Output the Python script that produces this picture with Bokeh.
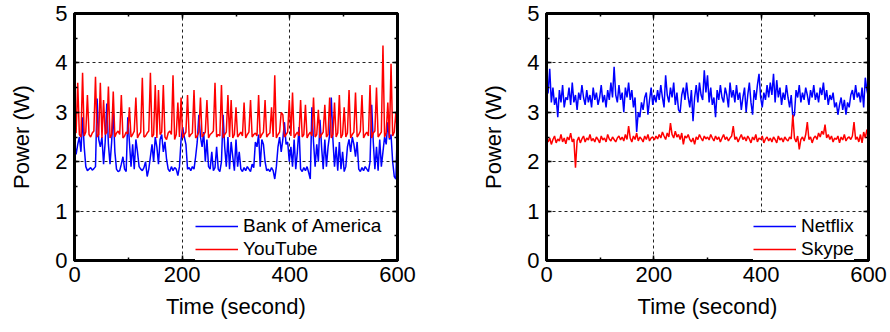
import numpy as np
from bokeh.plotting import figure
from bokeh.layouts import row
from bokeh.models import (Range1d, LinearAxis, Legend, LegendItem, SingleIntervalTicker,
                          CustomJSTickFormatter)
from bokeh.embed import file_html
from bokeh.resources import INLINE

# ---- data (power in W, sampled every 3 s from 0 to 600 s) ----
bank_of_america = [
    2.40, 2.15, 2.35, 2.50, 2.20, 2.90, 2.30,
    1.90, 1.82, 1.85, 1.88, 1.83, 1.86, 1.90,
    3.28,
    2.45, 2.30, 2.50, 1.95, 2.40,
    3.18,
    2.35, 1.95, 2.40,
    3.00,
    2.20, 1.85, 1.80, 1.82, 1.95, 2.10, 1.85, 1.80,
    2.90,
    2.40, 1.90, 2.35, 1.85, 2.45, 2.20, 1.90,
    1.85, 1.82, 1.88, 2.00, 1.70, 1.85,
    2.10, 2.35, 2.00, 2.50, 2.30, 1.95, 2.45, 2.55, 2.20, 2.40, 2.05,
    1.85, 1.80, 1.90, 1.82, 1.88, 1.85, 1.72, 1.90,
    2.45, 2.70, 2.50, 2.35,
    1.85, 1.88, 1.82, 1.90, 1.85, 2.10,
    2.40, 2.95,
    2.50, 2.30, 2.60, 2.00, 2.45, 1.90,
    1.85, 2.20, 1.82, 1.88, 2.30, 1.85, 1.80, 2.00,
    2.95,
    2.30, 1.90, 2.50, 1.85, 2.40, 2.10, 1.82, 2.45, 1.90, 2.20,
    1.85, 1.80, 1.88, 1.82, 1.90, 1.85, 1.80, 1.95, 1.88,
    2.40, 2.30, 2.55, 1.90, 2.45, 2.35, 2.00,
    1.82, 1.85, 1.80, 1.88, 1.82, 1.65, 1.90,
    2.30, 2.50, 2.20, 2.45, 2.80, 2.35, 2.40, 2.00,
    2.30, 1.90, 2.45, 1.85, 2.20, 2.70,
    1.85, 1.80, 1.88, 1.82, 1.90, 1.78, 1.65,
    3.10,
    2.40, 1.90, 2.35, 2.00, 2.85, 2.30, 1.85, 2.45, 1.90, 2.30,
    2.55, 3.30,
    2.45, 1.90, 2.30, 1.82, 2.40, 1.85, 2.20, 1.80, 1.90,
    2.30, 2.45, 2.20, 2.50, 2.35, 2.10, 2.40,
    1.85, 1.80, 1.88, 1.82, 1.90, 1.85, 1.80, 2.00,
    3.15,
    2.40, 1.85, 2.30, 1.82, 2.45, 1.90, 2.20,
    2.50, 2.35, 2.80, 2.45, 2.55, 2.00,
    1.70, 1.65, 2.80,
]

youtube = [
    2.62, 2.58, 3.60, 2.55, 2.50, 3.80, 2.52, 2.60, 3.35, 2.55,
    2.50, 2.58, 2.62, 3.72, 2.50, 2.55, 3.60, 2.48, 3.25, 2.55,
    2.60, 3.52, 2.48, 2.55, 3.42, 2.50, 2.58, 2.62, 2.55, 3.35,
    2.48, 2.52, 2.60, 2.56, 3.10, 2.50, 2.55, 2.62, 3.30, 2.48,
    2.55, 2.60, 3.70, 2.50, 2.52, 2.58, 2.62, 3.80, 2.50, 2.55,
    3.55, 2.48, 3.45, 2.55, 2.60, 3.55, 2.50, 2.45, 2.58, 2.62,
    2.55, 3.75, 2.45, 2.55, 3.20, 2.50, 3.30, 2.48, 2.55, 2.60,
    3.35, 2.50, 2.55, 2.58, 3.45, 2.48, 2.52, 2.60, 3.30, 2.50,
    2.55, 2.60, 3.25, 2.48, 2.55, 2.58, 2.62, 3.60, 2.50, 2.55,
    2.52, 3.55, 2.48, 2.55, 2.60, 3.35, 2.50, 3.25, 2.48, 2.55,
    3.10, 2.50, 2.55, 2.60, 2.52, 3.20, 2.48, 2.55, 2.60, 3.25,
    2.50, 2.55, 2.58, 2.52, 3.35, 2.48, 2.55, 2.60, 3.25, 2.50,
    2.55, 2.58, 3.10, 2.50, 3.75, 2.48, 2.55, 2.60, 3.00, 2.95,
    2.50, 2.55, 2.60, 3.25, 2.52, 3.40, 2.48, 2.55, 2.60, 2.52,
    3.25, 2.50, 2.55, 3.15, 2.48, 2.55, 2.60, 2.52, 3.30, 2.50,
    2.55, 3.05, 2.48, 2.55, 2.60, 3.15, 2.50, 2.55, 3.30, 2.48,
    2.55, 3.20, 2.50, 2.58, 3.35, 2.48, 2.55, 3.10, 2.50, 2.58,
    3.45, 2.48, 2.55, 2.60, 3.40, 2.50, 2.55, 2.62, 3.35, 2.48,
    2.55, 2.60, 2.52, 3.55, 2.48, 2.58, 2.62, 3.50, 2.50, 2.55,
    2.60, 4.35, 2.50, 2.58, 3.20, 2.48, 3.98, 2.52, 2.60, 3.00, 2.55,
]

netflix = [
    3.35, 3.40, 3.88, 3.20, 3.50, 3.15, 3.30, 2.90, 3.45, 3.20,
    3.55, 3.10, 3.30, 3.25, 3.50, 3.15, 3.60, 3.20, 3.35, 3.05,
    3.40, 3.25, 3.55, 3.30, 3.15, 3.45, 3.20, 3.35, 3.10, 3.50,
    3.25, 3.40, 3.15, 3.30, 3.55, 3.20, 3.35, 3.10, 3.45, 3.25,
    3.60, 3.30, 3.92, 3.35, 3.20, 3.55, 3.25, 3.40, 3.00, 3.50,
    3.30, 3.60, 3.25, 3.45, 3.10, 3.30, 2.60, 3.00, 2.90, 3.20,
    3.05, 3.30, 3.40, 2.95, 3.25, 3.50, 3.15, 3.35, 3.20, 3.45,
    3.25, 3.55, 3.30, 3.10, 3.75, 3.35, 3.20, 3.50, 3.30, 3.60,
    3.15, 3.40, 3.05, 3.00, 3.35, 3.50, 3.25, 3.60, 3.30, 3.10,
    3.45, 2.82, 3.30, 3.55, 3.20, 3.60, 3.35, 3.25, 3.85, 3.40,
    3.75, 3.20, 3.50, 3.15, 3.30, 2.90, 3.45, 3.25, 3.55, 3.30,
    3.20, 3.50, 3.35, 3.10, 3.60, 3.30, 3.45, 3.20, 3.55, 3.25,
    3.40, 3.05, 3.30, 3.50, 3.00, 3.35, 3.60, 3.20, 2.95, 3.45,
    3.25, 3.55, 3.78, 3.30, 3.10, 3.40, 3.25, 3.55, 3.30, 3.60,
    3.35, 3.78, 3.20, 3.65, 3.30, 3.50, 3.15, 3.40, 3.25, 3.55,
    3.30, 3.10, 3.35, 2.90, 2.95, 3.45, 3.30, 3.55, 3.20, 3.40,
    3.25, 3.50, 3.35, 3.15, 3.45, 3.30, 3.55, 3.25, 3.40, 3.20,
    3.50, 3.35, 3.60, 3.25, 3.45, 3.15, 3.35, 3.25, 3.40, 3.10,
    3.20, 2.95, 3.15, 3.30, 3.05, 3.25, 2.95, 3.20, 3.10, 3.35,
    3.45, 3.25, 3.55, 3.30, 3.40, 3.20, 3.50, 3.10, 3.70, 3.45, 3.30,
]

skype = [
    2.50, 2.40, 2.48, 2.35, 2.45, 2.52, 2.38, 2.46, 2.42, 2.55,
    2.40, 2.48, 2.36, 2.50, 2.44, 2.58, 2.40, 2.46, 1.88, 2.42,
    2.50, 2.38, 2.46, 2.52, 2.40, 2.48, 2.44, 2.55, 2.42, 2.47,
    2.40, 2.50, 2.45, 2.38, 2.52, 2.44, 2.48, 2.40, 2.55, 2.46,
    2.42, 2.50, 2.45, 2.40, 2.48, 2.52, 2.44, 2.50, 2.42, 2.55,
    2.45, 2.72, 2.48, 2.40, 2.52, 2.45, 2.58, 2.42, 2.50, 2.46,
    2.40, 2.52, 2.45, 2.55, 2.42, 2.48, 2.50, 2.44, 2.52, 2.46,
    2.55, 2.48, 2.60, 2.52, 2.45, 2.58, 2.50, 2.78, 2.55, 2.48,
    2.62, 2.50, 2.55, 2.45, 2.58, 2.35, 2.52, 2.48, 2.55, 2.45,
    2.40, 2.48, 2.35, 2.50, 2.45, 2.55, 2.48, 2.42, 2.52, 2.46,
    2.50, 2.44, 2.55, 2.48, 2.42, 2.52, 2.45, 2.50, 2.40, 2.48,
    2.55, 2.45, 2.50, 2.42, 2.48, 2.52, 2.72, 2.45, 2.50, 2.40,
    2.48, 2.55, 2.45, 2.50, 2.42, 2.52, 2.46, 2.38, 2.50, 2.44,
    2.55, 2.40, 2.48, 2.45, 2.52, 2.38, 2.46, 2.50, 2.42, 2.48,
    2.40, 2.50, 2.45, 2.38, 2.52, 2.44, 2.48, 2.40, 2.50, 2.45,
    2.42, 2.50, 2.46, 2.95, 2.48, 2.40, 2.52, 2.25, 2.45, 2.50,
    2.42, 2.55, 2.80, 2.45, 2.50, 2.38, 2.48, 2.52, 2.45, 2.58,
    2.50, 2.62, 2.55, 2.75, 2.48, 2.55, 2.45, 2.52, 2.40, 2.48,
    2.45, 2.52, 2.38, 2.50, 2.44, 2.55, 2.42, 2.48, 2.50, 2.45,
    2.52, 2.80, 2.45, 2.50, 2.40, 2.55, 2.38, 2.60, 2.48, 2.65, 2.55,
]

series_names = [["Bank of America", "YouTube"], ["Netflix", "Skype"]]
x_ticks = [0, 200, 400, 600]
y_ticks = [0, 1, 2, 3, 4, 5]

FONT = "Liberation Sans"
BLUE = "#0000FF"
RED = "#FF0000"


def times(vals):
    return np.linspace(0, 600, len(vals))


def style_axis(ax, show_labels=True):
    ax.axis_line_color = "black"
    ax.axis_line_width = 3
    ax.major_tick_in = 5
    ax.major_tick_out = 0
    ax.minor_tick_in = 3
    ax.minor_tick_out = 0
    ax.major_tick_line_width = 1.5
    ax.minor_tick_line_width = 1.5
    ax.major_tick_line_color = "black"
    ax.minor_tick_line_color = "black"
    ax.major_label_text_font = FONT
    ax.major_label_text_color = "black"
    ax.axis_label_text_font = FONT
    ax.axis_label_text_font_style = "normal"
    ax.axis_label_text_color = "black"
    ax.major_label_text_font_size = "22px"
    ax.axis_label_text_font_size = "22px"
    if not show_labels:
        ax.formatter = CustomJSTickFormatter(code="return ''")
        ax.major_label_standoff = 0


def make_panel(blue_vals, red_vals, names, border_left, border_right, legend_x):
    p = figure(width=445, height=332, output_backend="svg", toolbar_location=None,
               x_range=Range1d(0, 600), y_range=Range1d(0, 5),
               min_border_left=border_left, min_border_right=border_right,
               min_border_top=13, min_border_bottom=72)
    p.outline_line_color = "black"
    p.outline_line_width = 3
    p.background_fill_color = "white"
    p.border_fill_color = "white"

    xt = SingleIntervalTicker(interval=200, num_minor_ticks=2)
    yt = SingleIntervalTicker(interval=1, num_minor_ticks=2)
    p.xaxis.ticker = xt
    p.yaxis.ticker = yt
    p.xaxis.axis_label = "Time (second)"
    p.yaxis.axis_label = "Power (W)"
    p.xaxis.major_label_standoff = 6
    p.xaxis.axis_label_standoff = 9
    p.yaxis.major_label_standoff = 7
    p.yaxis.axis_label_standoff = 18
    style_axis(p.xaxis[0])
    style_axis(p.yaxis[0])

    top = LinearAxis(ticker=SingleIntervalTicker(interval=200, num_minor_ticks=2))
    right = LinearAxis(ticker=SingleIntervalTicker(interval=1, num_minor_ticks=2))
    style_axis(top, False)
    style_axis(right, False)
    p.add_layout(top, "above")
    p.add_layout(right, "right")

    p.xgrid.ticker = xt
    p.ygrid.ticker = yt
    for g in (p.xgrid[0], p.ygrid[0]):
        g.grid_line_color = "#222222"
        g.grid_line_dash = "3 3"
        g.grid_line_width = 1

    rb = p.line(times(blue_vals), blue_vals, line_color=BLUE, line_width=1.5)
    rr = p.line(times(red_vals), red_vals, line_color=RED, line_width=1.5)

    legend = Legend(items=[LegendItem(label=names[0], renderers=[rb]),
                           LegendItem(label=names[1], renderers=[rr])],
                    location=(legend_x, 0))
    legend.border_line_color = None
    legend.background_fill_color = "white"
    legend.background_fill_alpha = 1
    legend.label_text_font = FONT
    legend.label_text_font_size = "19px"
    legend.label_text_color = "black"
    legend.glyph_width = 43
    legend.glyph_height = 22
    legend.label_height = 22
    legend.label_standoff = 5
    legend.spacing = 1
    legend.padding = 5
    legend.margin = 0
    p.add_layout(legend, "center")
    return p


left = make_panel(bank_of_america, youtube, series_names[0], 74, 48, 121)
right = make_panel(netflix, skype, series_names[1], 101, 22, 207)

layout = row(left, right)
open("out.html", "w").write(file_html(layout, INLINE))
